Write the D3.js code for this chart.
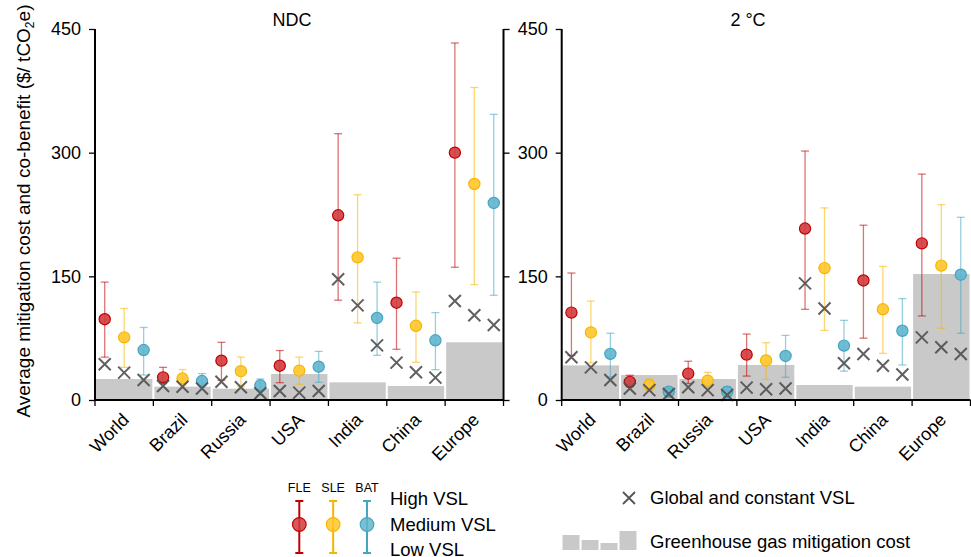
<!DOCTYPE html>
<html>
<head>
<meta charset="utf-8">
<script src="https://cdn.jsdelivr.net/npm/d3@7"></script>
<style>
    body { margin: 0; background: #fff; }
    svg { font-family: 'Liberation Sans', Arial, sans-serif; }
</style>
</head>
<body>
<div id="chart"></div>
<script>
'use strict';

const regions = ['World', 'Brazil', 'Russia', 'USA', 'India', 'China', 'Europe'];
const yTicks = [0, 150, 300, 450];

// NDC scenario
const ndcFleMid  = [98, 27.5, 47.7, 41.6, 224, 118, 300];
const ndcFleLow  = [52, 20, 24, 21, 121, 61.5, 161];
const ndcFleHigh = [143, 39.6, 70, 60, 323, 172, 433];
const ndcSleMid  = [76, 26, 35, 35.6, 173, 90, 262];
const ndcSleLow  = [39.6, 20, 16, 19, 93.4, 45.7, 140];
const ndcSleHigh = [111, 37, 52, 52, 249, 131, 379];
const ndcBatMid  = [60.6, 23, 17.8, 40.4, 99.5, 72.4, 239];
const ndcBatLow  = [30.3, 18, 6, 21.4, 54.2, 36.8, 127];
const ndcBatHigh = [88, 32, 25.5, 59, 143, 106, 346.5];
const ndcConstFle = [43.3, 17, 22.2, 10.9, 146.4, 45.3, 120];
const ndcConstSle = [33.2, 16, 15.4, 8.9, 114.8, 33.6, 102.7];
const ndcConstBat = [24.3, 14, 8.1, 10.9, 66.3, 27.1, 91];
const ndcCost = [25.5, 16.2, 13.7, 31.5, 21.4, 17, 70];

// 2 °C scenario
const twoFleMid  = [106, 22, 32, 55, 208, 145, 190];
const twoFleLow  = [54, 16, 20, 29, 110, 75, 102];
const twoFleHigh = [154, 30, 47, 80, 302, 212, 274];
const twoSleMid  = [82, 18, 23.5, 48, 160, 110, 163];
const twoSleLow  = [45, 12, 15, 25, 84.5, 56.6, 87];
const twoSleHigh = [120, 25.5, 33.6, 69.5, 233, 162, 237];
const twoBatMid  = [56, 10, 10, 53.4, 66, 84, 152];
const twoBatLow  = [28, 4, 2, 27.5, 35, 42.5, 81];
const twoBatHigh = [81, 14, 16, 78.4, 96.6, 123, 221.6];
const twoConstFle = [51.8, 14, 15.4, 15, 141.5, 55.8, 76];
const twoConstSle = [39.6, 12, 12, 13, 111, 41.6, 64];
const twoConstBat = [24.3, 7.3, 6, 14, 44.5, 31, 55.8];
const twoCost = [42, 30.3, 25.5, 42.5, 18.2, 16.2, 152.8];

const methods = ['FLE', 'SLE', 'BAT'];
const colours = {
    FLE: { fill: '#d13b3f', stroke: '#c00000' },
    SLE: { fill: '#ffc72c', stroke: '#f7b500' },
    BAT: { fill: '#60b5cd', stroke: '#45a5c2' }
};

const width = 971, height = 557;

let svg = d3.select('#chart').append('svg')
    .attr('width', width)
    .attr('height', height);

let yScale = d3.scaleLinear().domain([0, 450]).range([400, 29]);

let drawPanel = function drawPanel(config) {

    let x = d3.scaleBand().domain(regions).range(config.range).padding(0);
    let off = d3.scalePoint().domain(methods).range([1 / 6, 5 / 6]);
    let g = svg.append('g').attr('class', 'panel');

    // mitigation cost bars
    g.selectAll('.cost')
        .data(regions)
        .enter()
        .append('rect')
        .attr('class', 'cost')
        .attr('x', d => x(d) + 1)
        .attr('width', x.bandwidth() - 2)
        .attr('y', (d, i) => yScale(config.cost[i]))
        .attr('height', (d, i) => yScale(0) - yScale(config.cost[i]))
        .attr('fill', '#c9c9c9');

    let points = [];
    methods.forEach(m => {
        regions.forEach((r, i) => {
            points.push({
                m: m,
                cx: x(r) + x.bandwidth() * off(m),
                mid: config[m].mid[i],
                low: config[m].low[i],
                high: config[m].high[i],
                cst: config[m].cst[i]
            });
        });
    });

    let err = g.selectAll('.err')
        .data(points)
        .enter()
        .append('g')
        .attr('class', 'err')
        .attr('stroke', d => colours[d.m].stroke)
        .attr('stroke-opacity', 0.55)
        .attr('stroke-width', 1.3);

    err.append('line')
        .attr('x1', d => d.cx).attr('x2', d => d.cx)
        .attr('y1', d => yScale(d.low)).attr('y2', d => yScale(d.high));
    err.append('line')
        .attr('x1', d => d.cx - 4).attr('x2', d => d.cx + 4)
        .attr('y1', d => yScale(d.high)).attr('y2', d => yScale(d.high));
    err.append('line')
        .attr('x1', d => d.cx - 4).attr('x2', d => d.cx + 4)
        .attr('y1', d => yScale(d.low)).attr('y2', d => yScale(d.low));

    g.selectAll('.dot')
        .data(points)
        .enter()
        .append('circle')
        .attr('class', 'dot')
        .attr('cx', d => d.cx)
        .attr('cy', d => yScale(d.mid))
        .attr('r', 5.6)
        .attr('fill', d => colours[d.m].fill)
        .attr('fill-opacity', 0.9)
        .attr('stroke', d => colours[d.m].stroke)
        .attr('stroke-width', 1.2);

    g.selectAll('.cross')
        .data(points)
        .enter()
        .append('path')
        .attr('class', 'cross')
        .attr('d', d => {
            let cy = yScale(d.cst), s = 6;
            return 'M' + (d.cx - s) + ',' + (cy - s) + 'L' + (d.cx + s) + ',' + (cy + s) +
                'M' + (d.cx - s) + ',' + (cy + s) + 'L' + (d.cx + s) + ',' + (cy - s);
        })
        .attr('stroke', '#4f4f4f')
        .attr('stroke-opacity', 0.9)
        .attr('stroke-width', 2)
        .attr('fill', 'none');

    // y axis
    let yAxis = d3.axisLeft(yScale).tickValues(yTicks).tickSize(6).tickPadding(8);
    let ya = g.append('g')
        .attr('transform', 'translate(' + config.range[0] + ',0)')
        .call(yAxis);
    ya.select('.domain').attr('d', 'M0,29V400').attr('stroke-width', 2);
    ya.selectAll('.tick line').attr('stroke-width', 1.3);
    ya.selectAll('.tick text')
        .attr('font-size', 18)
        .attr('font-family', "'Liberation Sans', Arial, sans-serif")
        .attr('fill', '#000');

    if (config.rightBorder) {
        let yr = g.append('g')
            .attr('transform', 'translate(' + config.range[1] + ',0)')
            .call(d3.axisRight(yScale).tickValues(yTicks).tickSize(6).tickFormat(''));
        yr.select('.domain').attr('d', 'M0,29V400').attr('stroke-width', 2);
        yr.selectAll('.tick line').attr('stroke-width', 1.3);
    }

    // x axis
    let xa = g.append('g').attr('class', 'x-axis');
    xa.append('line')
        .attr('x1', config.range[0]).attr('x2', config.range[1])
        .attr('y1', yScale(0)).attr('y2', yScale(0))
        .attr('stroke', '#000').attr('stroke-width', 2);
    let edges = regions.map(r => x(r)).concat([config.range[1]]);
    xa.selectAll('.edge')
        .data(edges)
        .enter()
        .append('line')
        .attr('x1', d => d).attr('x2', d => d)
        .attr('y1', yScale(0)).attr('y2', yScale(0) + 6)
        .attr('stroke', '#000').attr('stroke-width', 1.3);
    xa.selectAll('.lbl')
        .data(regions)
        .enter()
        .append('text')
        .attr('transform', d => 'translate(' + (x(d) + x.bandwidth() / 2 + 6) + ',421) rotate(-45)')
        .attr('text-anchor', 'end')
        .attr('font-size', 18)
        .text(d => d);

    svg.append('text')
        .attr('x', config.titleX)
        .attr('y', 26)
        .attr('text-anchor', 'middle')
        .attr('font-size', 18)
        .text(config.title);
};

drawPanel({
    range: [95, 503.5],
    rightBorder: true,
    title: 'NDC',
    titleX: 292,
    cost: ndcCost,
    FLE: { mid: ndcFleMid, low: ndcFleLow, high: ndcFleHigh, cst: ndcConstFle },
    SLE: { mid: ndcSleMid, low: ndcSleLow, high: ndcSleHigh, cst: ndcConstSle },
    BAT: { mid: ndcBatMid, low: ndcBatLow, high: ndcBatHigh, cst: ndcConstBat }
});

drawPanel({
    range: [561.7, 970.5],
    rightBorder: false,
    title: '2 °C',
    titleX: 748,
    cost: twoCost,
    FLE: { mid: twoFleMid, low: twoFleLow, high: twoFleHigh, cst: twoConstFle },
    SLE: { mid: twoSleMid, low: twoSleLow, high: twoSleHigh, cst: twoConstSle },
    BAT: { mid: twoBatMid, low: twoBatLow, high: twoBatHigh, cst: twoConstBat }
});

// y axis title
let yTitle = svg.append('text')
    .attr('transform', 'translate(30,211) rotate(-90)')
    .attr('text-anchor', 'middle')
    .attr('font-size', 19);
yTitle.append('tspan').text('Average mitigation cost and co-benefit ($/ tCO');
yTitle.append('tspan').attr('font-size', 12).attr('dy', 4).text('2');
yTitle.append('tspan').attr('dy', -4).text('e)');

// legend: methods
let legend = svg.append('g').attr('class', 'legend');
let legendX = d3.scalePoint().domain(methods).range([299.3, 367]);

legend.selectAll('.lm')
    .data(methods)
    .enter()
    .append('text')
    .attr('x', d => legendX(d))
    .attr('y', 492)
    .attr('text-anchor', 'middle')
    .attr('font-size', 12.5)
    .text(d => d);

let lg = legend.selectAll('.lbar')
    .data(methods)
    .enter()
    .append('g')
    .attr('stroke', d => colours[d].stroke)
    .attr('stroke-width', 2);
lg.append('line')
    .attr('x1', d => legendX(d)).attr('x2', d => legendX(d))
    .attr('y1', 501).attr('y2', 553);
lg.append('line')
    .attr('x1', d => legendX(d) - 4).attr('x2', d => legendX(d) + 4)
    .attr('y1', 501).attr('y2', 501);
lg.append('line')
    .attr('x1', d => legendX(d) - 4).attr('x2', d => legendX(d) + 4)
    .attr('y1', 553).attr('y2', 553);
lg.append('circle')
    .attr('cx', d => legendX(d))
    .attr('cy', 524.5)
    .attr('r', 6.8)
    .attr('fill', d => colours[d].fill)
    .attr('fill-opacity', 0.85)
    .attr('stroke-width', 1.2);

const vslLabels = ['High VSL', 'Medium VSL', 'Low VSL'];
legend.selectAll('.vsl')
    .data(vslLabels)
    .enter()
    .append('text')
    .attr('x', 390)
    .attr('y', (d, i) => 505 + i * 25.5)
    .attr('font-size', 18.5)
    .text(d => d);

// legend: constant VSL + mitigation cost
legend.append('path')
    .attr('d', 'M623,492L635,504M623,504L635,492')
    .attr('stroke', '#555')
    .attr('stroke-width', 1.8);
legend.append('text')
    .attr('x', 650).attr('y', 504)
    .attr('font-size', 18.5)
    .text('Global and constant VSL');

const legendBars = [15, 10, 7, 19];
legend.selectAll('.lcost')
    .data(legendBars)
    .enter()
    .append('rect')
    .attr('x', (d, i) => 562.5 + i * 19)
    .attr('width', 17)
    .attr('y', d => 550 - d)
    .attr('height', d => d)
    .attr('fill', '#c9c9c9');
legend.append('text')
    .attr('x', 650).attr('y', 548)
    .attr('font-size', 18.5)
    .text('Greenhouse gas mitigation cost');
</script>
</body>
</html>
